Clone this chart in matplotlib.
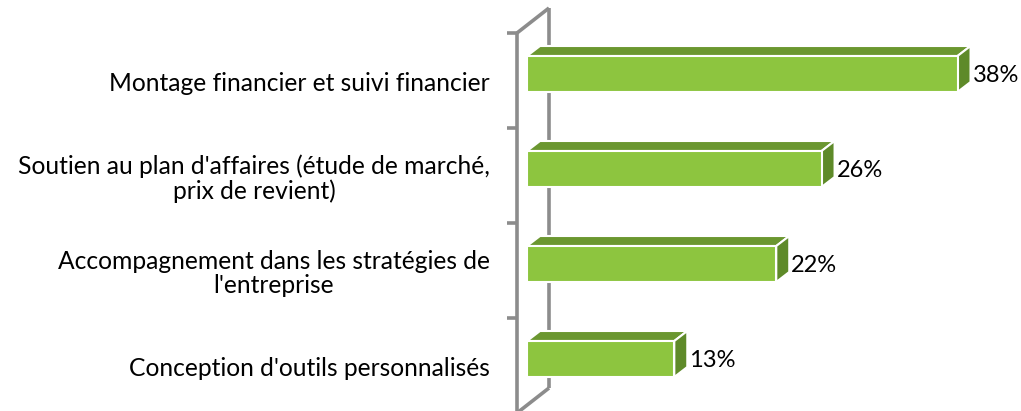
import matplotlib
matplotlib.use("Agg")
import matplotlib.pyplot as plt
from matplotlib.patches import Rectangle, Polygon

categories = [
    "Montage financier et suivi financier",
    "Soutien au plan d'affaires (étude de marché,\nprix de revient)",
    "Accompagnement dans les stratégies de\nl'entreprise",
    "Conception d'outils personnalisés",
]
values = [38, 26, 22, 13]
value_labels = ["38%", "26%", "22%", "13%"]

W, H = 1021, 411
fig = plt.figure(figsize=(W / 100, H / 100), dpi=100)
x0_px, px_per_pct = 527, 11.33
xmax = (W - x0_px) / px_per_pct
ax = fig.add_axes([x0_px / W, 0, 1 - x0_px / W, 1])
ax.set_xlim(0, xmax)
y0_px, band_px = 74, 95
ax.set_ylim((H - y0_px) / band_px, -y0_px / band_px)
ax.axis("off")

def px2d(px, py):
    return ((px - x0_px) / px_per_pct, (py - y0_px) / band_px)

# wall
wall_col = "#8c8c8c"
lw = 2.6
for seg in [[(517, 33), (517, 420)], [(549, 8), (549, 388)], [(517, 33), (549, 8)], [(549, 388), (517, 413)]]:
    xs, ys = zip(*[px2d(*p) for p in seg])
    ax.plot(xs, ys, color=wall_col, lw=lw, clip_on=False, zorder=1, solid_capstyle="butt")
for ty in [33, 128, 223, 318]:
    xs, ys = zip(*[px2d(507, ty), px2d(517, ty)])
    ax.plot(xs, ys, color=wall_col, lw=lw, clip_on=False, zorder=1, solid_capstyle="butt")

front_c = "#8dc53f"
top_c = "#6b9730"
side_c = "#5e8a29"
h = 36 / band_px
dx = 13 / px_per_pct
dy = -10 / band_px
font = "Lato"
lab_x = px2d(490, 0)[0]

for i, (v, lab, vl) in enumerate(zip(values, categories, value_labels)):
    y_top = i - h / 2
    y_bot = i + h / 2
    # soft shadow on left
    for k, a in enumerate([0.05, 0.08, 0.12, 0.18]):
        sx = -(4 - k) * 1.5 / px_per_pct
        ax.add_patch(Rectangle((sx, y_top + 2 / band_px), -sx, h + 4 / band_px, facecolor="#808080",
                               alpha=a, edgecolor="none", zorder=2))
    ax.add_patch(Polygon([(0, y_top), (v, y_top), (v + dx, y_top + dy), (dx, y_top + dy)],
                         closed=True, facecolor=top_c, edgecolor="white", lw=1.5, zorder=3))
    ax.add_patch(Polygon([(v, y_top), (v, y_bot), (v + dx, y_bot + dy), (v + dx, y_top + dy)],
                         closed=True, facecolor=side_c, edgecolor="white", lw=1.5, zorder=3))
    ax.add_patch(Rectangle((0, y_top), v, h, facecolor=front_c, edgecolor="white", lw=1.5, zorder=4))
    ax.text(v + dx + 2 / px_per_pct, i + 1.5 / band_px, vl, ha="left", va="center",
            fontsize=17, family=font, color="black", clip_on=False)
    ax.text(lab_x, i + 9.5 / band_px, lab, ha="right", va="center", multialignment="center",
            linespacing=1.05, fontsize=17.7, family=font, color="black", clip_on=False)

fig.savefig("out.png", dpi=100, facecolor="white")
